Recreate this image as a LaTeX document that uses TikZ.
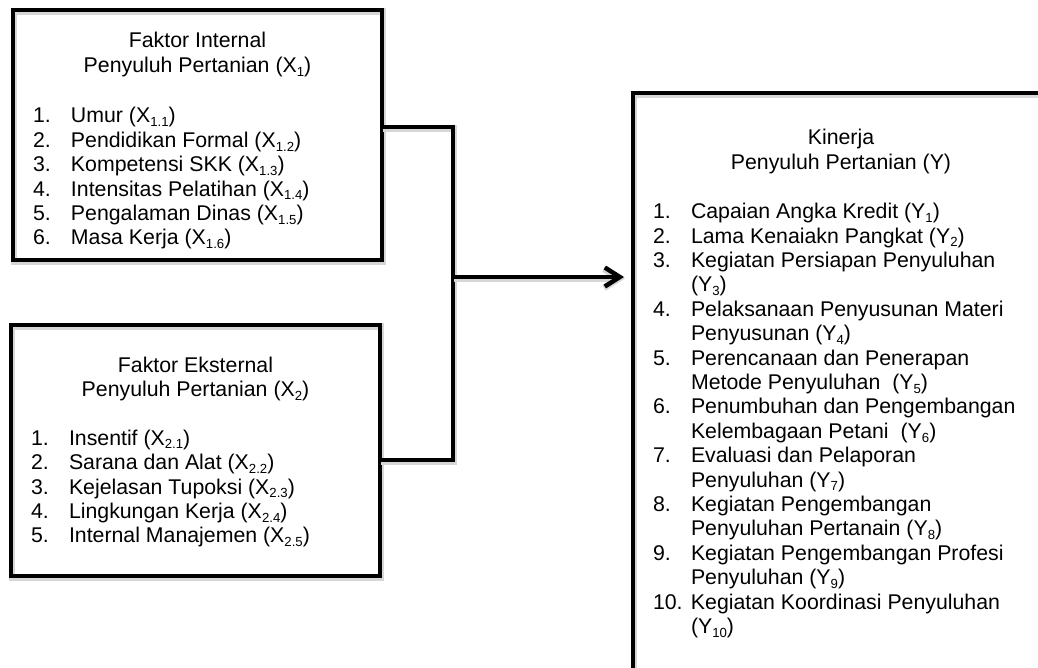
\documentclass[tikz,border=0pt]{standalone}
\usepackage{fontspec}
\setmainfont{Liberation Sans}
\usetikzlibrary{arrows.meta}

% lowered, reduced-size index
\newcommand{\sbs}[1]{\raisebox{-0.17em}{\fontsize{13.2}{13.2}\selectfont #1}}

\begin{document}
\begin{tikzpicture}[x=1pt,y=-1pt,
  softshadow/.style={preaction={draw=black!16, line width=6.5pt,
      transform canvas={shift={(1pt,-1.5pt)}}}},
  frame/.style={draw, line width=4.5pt, inner sep=0pt, outer sep=0pt,
      anchor=north west, softshadow},
  conn/.style={draw, line width=4.5pt, line join=miter, softshadow},
  txt/.style={inner sep=0pt, outer sep=0pt,
      font=\fontsize{21.3pt}{24.4pt}\selectfont},
  ttl/.style={txt, anchor=base},
  lst/.style={txt, anchor=base west}]
\useasboundingbox (0,0) rectangle (1038,668);
\clip (0,0) rectangle (1038,668);

% boxes
\node[frame, minimum width=369pt, minimum height=250pt] (intern) at (13,10) {};
\node[frame, minimum width=369pt, minimum height=251pt] (extern) at (11,325) {};
\node[frame, minimum width=430pt, minimum height=600pt] (kinerja) at (633,93) {};

% internal factors
\node[ttl] (intern-t) at (197.5,48) {\begin{tabular}[t]{@{}c@{}}Faktor Internal\\
  Penyuluh Pertanian (X\sbs{1})\end{tabular}};
\node[lst] (intern-l) at (33,123) {\begin{tabular}[t]{@{}p{38pt}@{}l@{}}
1. & Umur (X\sbs{1.1})\\
2. & Pendidikan Formal (X\sbs{1.2})\\
3. & Kompetensi SKK (X\sbs{1.3})\\
4. & Intensitas Pelatihan (X\sbs{1.4})\\
5. & Pengalaman Dinas (X\sbs{1.5})\\
6. & Masa Kerja (X\sbs{1.6})
\end{tabular}};

% external factors
\node[ttl] (extern-t) at (195.5,372) {\begin{tabular}[t]{@{}c@{}}Faktor Eksternal\\
  Penyuluh Pertanian (X\sbs{2})\end{tabular}};
\node[lst] (extern-l) at (31,445.2) {\begin{tabular}[t]{@{}p{38pt}@{}l@{}}
1. & Insentif (X\sbs{2.1})\\
2. & Sarana dan Alat (X\sbs{2.2})\\
3. & Kejelasan Tupoksi (X\sbs{2.3})\\
4. & Lingkungan Kerja (X\sbs{2.4})\\
5. & Internal Manajemen (X\sbs{2.5})
\end{tabular}};

% performance
\node[ttl] (kinerja-t) at (841,145) {\begin{tabular}[t]{@{}c@{}}Kinerja\\
  Penyuluh Pertanian (Y)\end{tabular}};
\node[lst] (kinerja-l) at (653,218.8) {\begin{tabular}[t]{@{}p{38pt}@{}l@{}}
1. & Capaian Angka Kredit (Y\sbs{1})\\
2. & Lama Kenaiakn Pangkat (Y\sbs{2})\\
3. & Kegiatan Persiapan Penyuluhan\\
   & (Y\sbs{3})\\
4. & Pelaksanaan Penyusunan Materi\\
   & Penyusunan (Y\sbs{4})\\
5. & Perencanaan dan Penerapan\\
   & Metode Penyuluhan\ \ (Y\sbs{5})\\
6. & Penumbuhan dan Pengembangan\\
   & Kelembagaan Petani\ \ (Y\sbs{6})\\
7. & Evaluasi dan Pelaporan\\
   & Penyuluhan (Y\sbs{7})\\
8. & Kegiatan Pengembangan\\
   & Penyuluhan Pertanain (Y\sbs{8})\\
9. & Kegiatan Pengembangan Profesi\\
   & Penyuluhan (Y\sbs{9})\\
10. & Kegiatan Koordinasi Penyuluhan\\
   & (Y\sbs{10})
\end{tabular}};

% connectors
\coordinate (bus-top) at (453,127);
\coordinate (bus-bot) at (453,460);
\coordinate (join) at (453,277);
\path[conn] (intern.east |- bus-top) -- (bus-top) -- (bus-bot) -- (extern.east |- bus-bot);
\path[conn, shorten >=9pt, -{Straight Barb[length=15pt,width=19pt]}]
  (join) -- (join -| kinerja.west);
\end{tikzpicture}
\end{document}
